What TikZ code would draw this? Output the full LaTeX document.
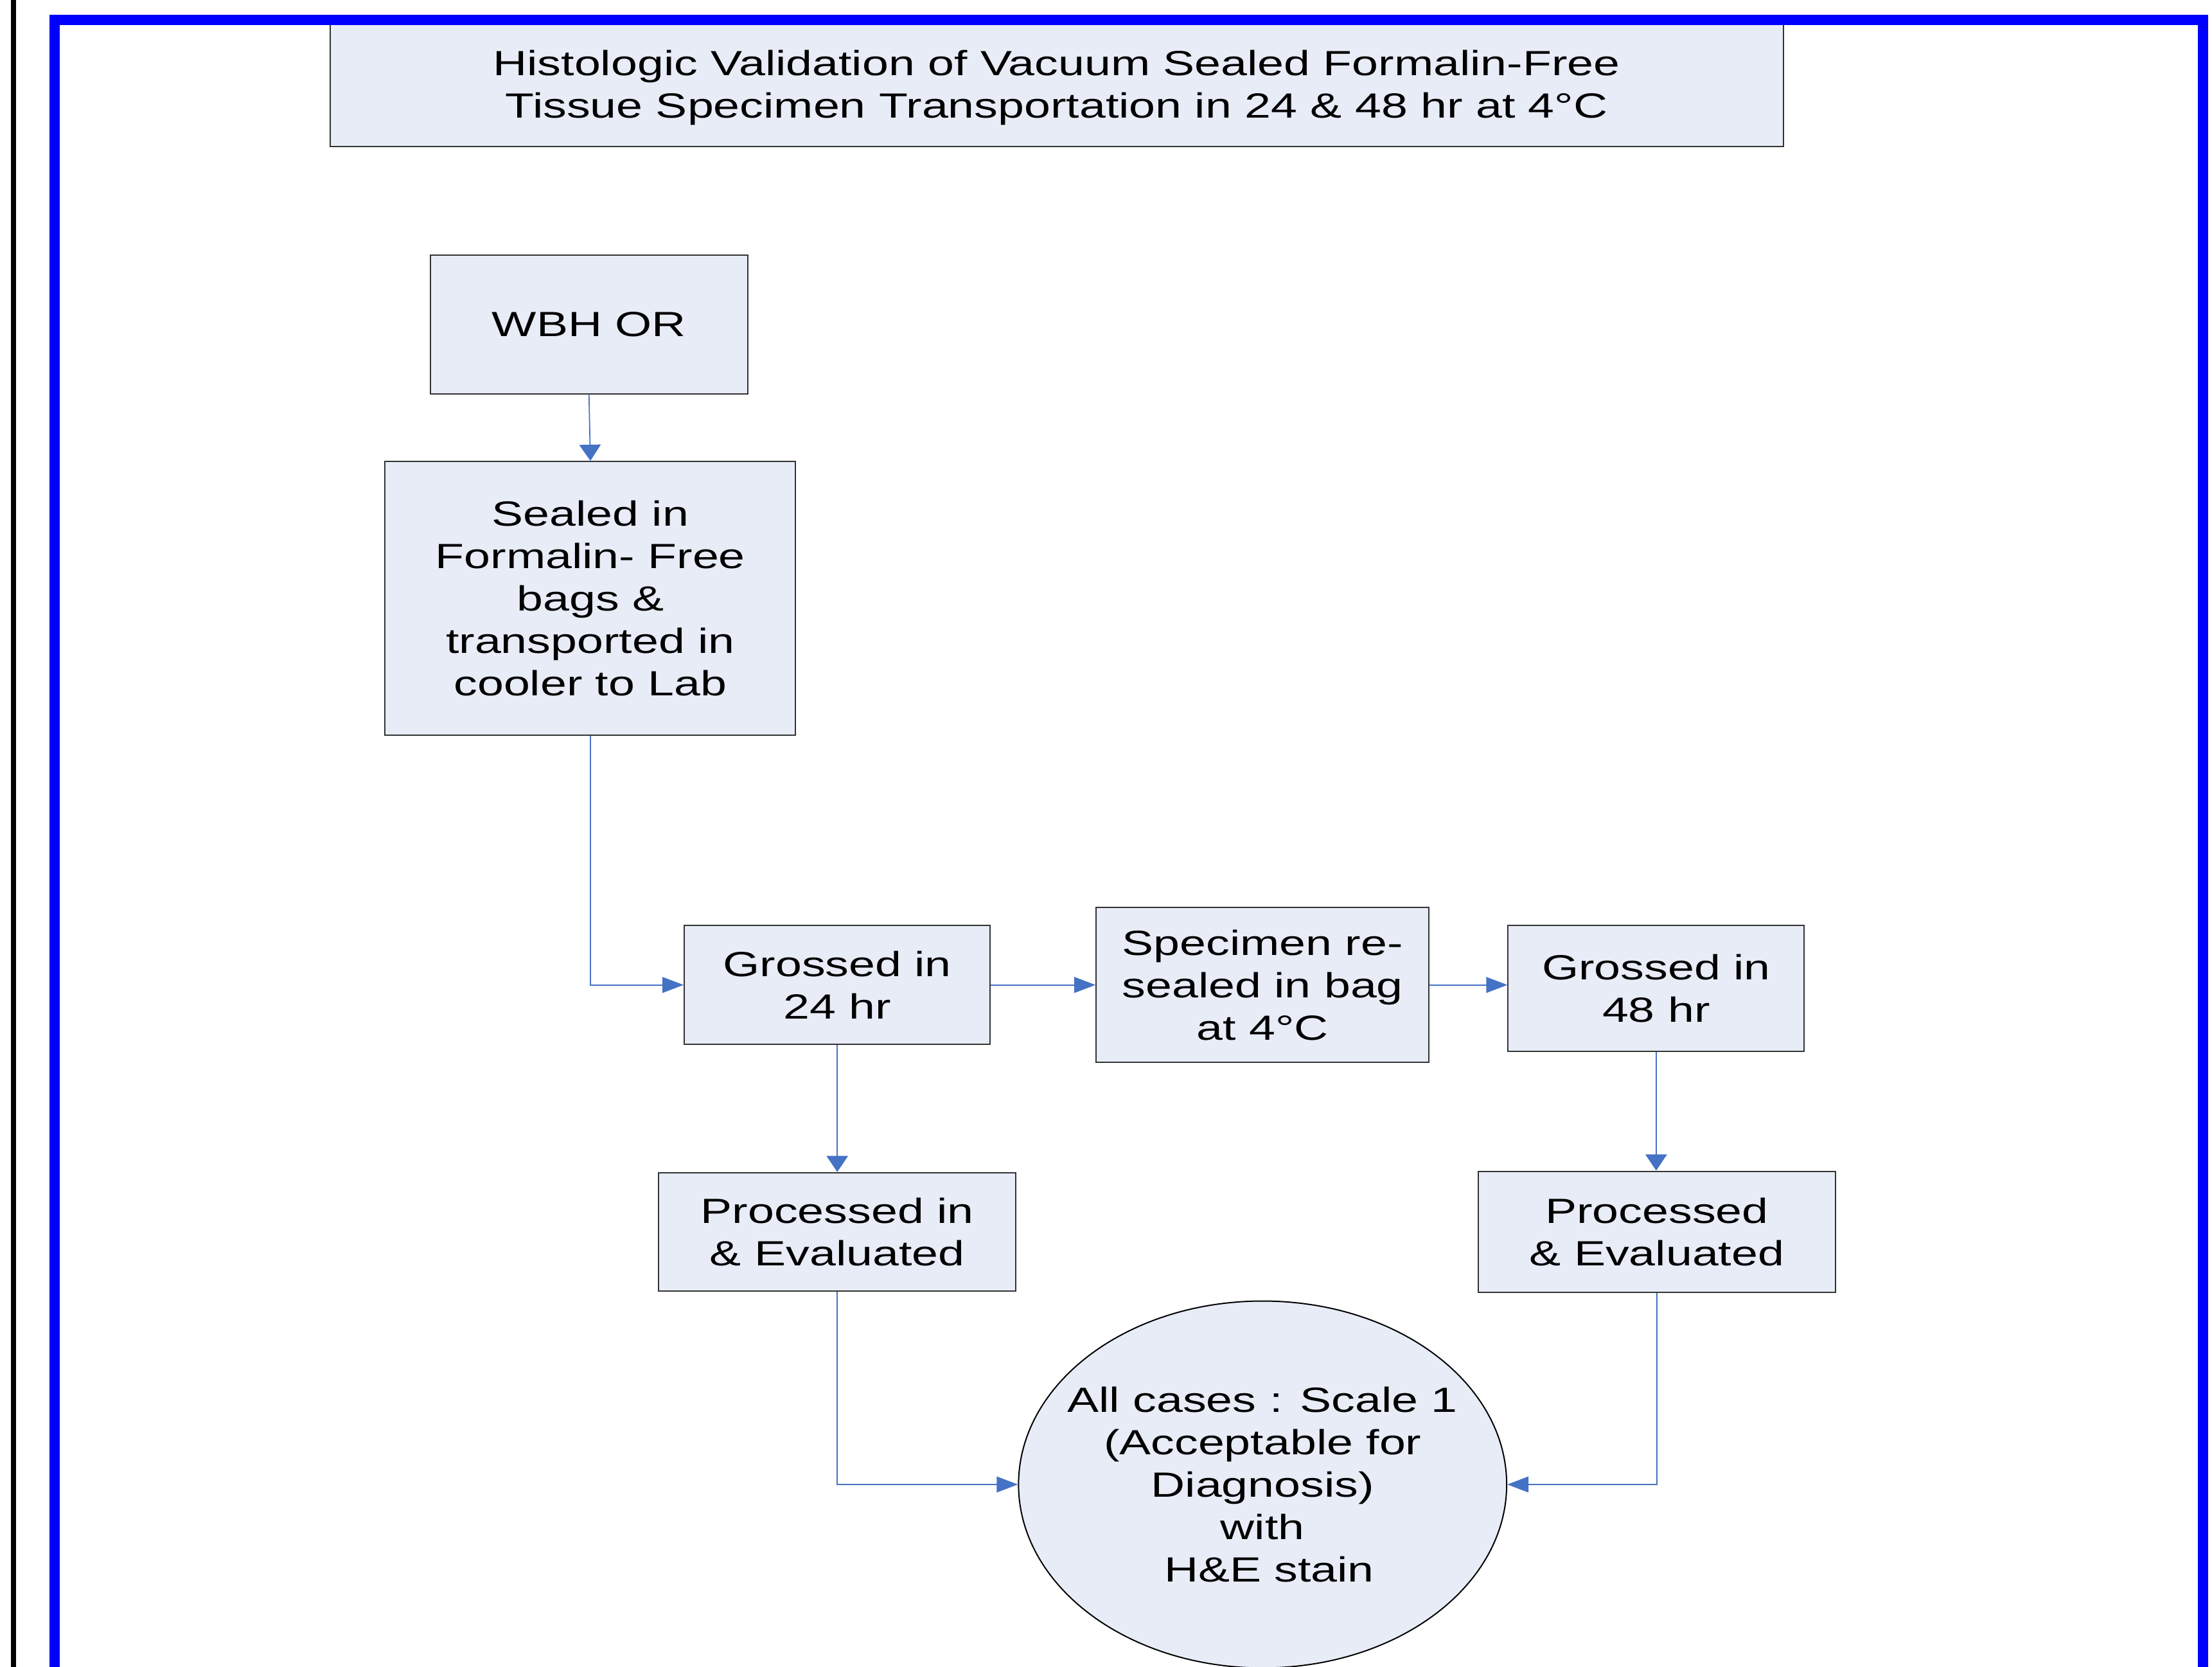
\documentclass[tikz,border=0pt]{standalone}
\usepackage{fontspec}
\setmainfont[FakeStretch=1.35]{Liberation Sans}
\usetikzlibrary{arrows.meta,shapes.geometric}
\definecolor{boxfill}{RGB}{231,236,247}
\definecolor{arrowblue}{RGB}{68,114,196}
\definecolor{frameblue}{RGB}{0,0,255}
\begin{document}
\begin{tikzpicture}[x=0.5pt,y=-0.5pt,
  txt/.style={align=center, inner sep=0pt, font=\fontsize{12.4}{15}\selectfont},
  box/.style={txt, draw=black!80, line width=0.45pt, fill=boxfill},
  oval/.style={ellipse, draw=black, line width=0.45pt, fill=boxfill, inner sep=0pt},
  harr/.style={draw=arrowblue, line width=0.4pt, -{Triangle[length=7.5pt,width=5.6pt]}},
  varr/.style={draw=arrowblue, line width=0.4pt, -{Triangle[length=5.7pt,width=7.6pt]}}]
\useasboundingbox (0,0) rectangle (1568,1181);
\clip (0,0) rectangle (1568,1181);
% title
\node[box, minimum width=515pt, minimum height=45pt] (title) at (749,59) {};
\node[txt] (titletext) at (749,62)
  {Histologic Validation of Vacuum Sealed Formalin-Free\\Tissue Specimen Transportation in 24 \& 48 hr at 4°C};
% frame lines
\draw[line width=1.85pt] (9.6,-5) -- (9.6,1190);
\draw[frameblue, line width=3.6pt] (38.7,1200) -- (38.7,14) -- (1561.5,14) -- (1561.5,1200);
% nodes
\node[box, minimum width=112.5pt, minimum height=49pt] (wbh) at (417.5,230) {WBH OR};
\node[box, minimum width=145.5pt, minimum height=97pt] (sealed) at (418.5,424)
  {Sealed in\\Formalin- Free\\bags \&\\transported in\\cooler to Lab};
\node[box, minimum width=108.5pt, minimum height=42pt] (g24) at (593.5,698) {Grossed in\\24 hr};
\node[box, minimum width=118pt, minimum height=55pt] (spec) at (895,698) {Specimen re-\\sealed in bag\\at 4°C};
\node[box, minimum width=105pt, minimum height=44.5pt] (g48) at (1174,700.5) {Grossed in\\48 hr};
\node[box, minimum width=126.5pt, minimum height=42pt] (p24) at (593.5,873) {Processed in\\\& Evaluated};
\node[box, minimum width=126.5pt, minimum height=43pt] (p48) at (1174.5,873) {Processed\\\& Evaluated};
\node[oval, minimum width=173pt, minimum height=130pt] (ell) at (895,1052) {};
\node[txt] (elltext) at (895,1052)
  {All cases : Scale 1\\(Acceptable for\\Diagnosis)\\with\\\mbox{\ }H\&E stain};
% connectors
\draw[varr] (wbh.south) -- (sealed.north);
\draw[harr] (sealed.south) |- (g24.west);
\draw[harr] (g24.east) -- (spec.west);
\draw[harr] (spec.east) -- (spec.east -| g48.west);
\draw[varr] (g24.south) -- (p24.north);
\draw[varr] (g48.south) -- (g48.south |- p48.north);
\draw[harr] (p24.south) |- (ell.west);
\draw[harr] (p48.south) |- (ell.east);
\end{tikzpicture}
\end{document}
